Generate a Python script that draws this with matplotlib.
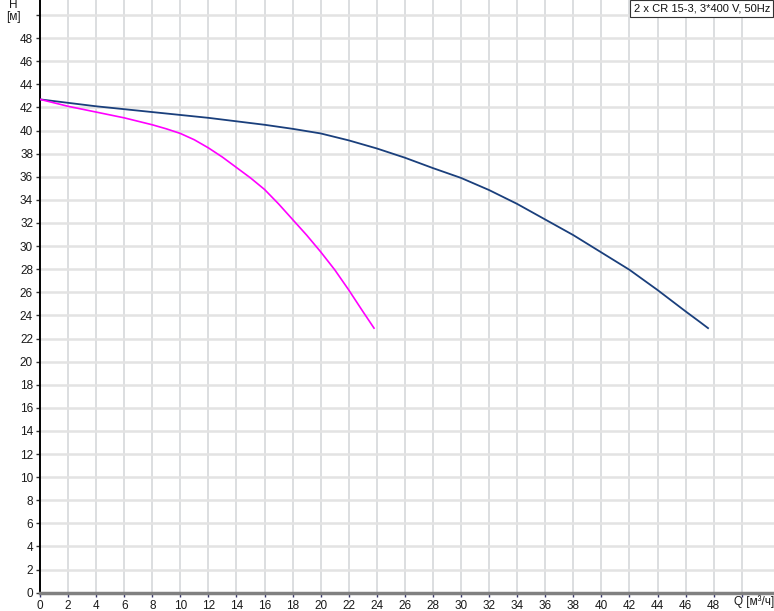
import matplotlib
matplotlib.use('Agg', force=True)
import matplotlib.pyplot as plt

plt.rcParams['font.family'] = ['Liberation Sans', 'DejaVu Sans']

# одиночный насос (пурпурная кривая)
q_single = [0, 1, 2, 3, 4, 5, 6, 7, 8, 9, 10, 11, 12, 13, 14, 15, 16, 17, 18,
            19, 20, 21, 22, 23, 23.8]
h_single = [42.7, 42.4, 42.1, 41.85, 41.6, 41.35, 41.1, 40.8, 40.5, 40.15, 39.75, 39.2,
            38.5, 37.7, 36.8, 35.9, 34.9, 33.65, 32.3, 30.95, 29.5, 27.95, 26.2,
            24.35, 22.9]

# 2 насоса параллельно (синяя кривая)
q_double = [0, 2, 4, 6, 8, 10, 12, 14, 16, 18, 20, 22, 24, 26, 28, 30, 32, 34, 36,
            38, 40, 42, 44, 46, 47, 47.6]
h_double = [42.7, 42.4, 42.1, 41.85, 41.6, 41.35, 41.1, 40.8, 40.5, 40.15, 39.75,
            39.15, 38.45, 37.65, 36.75, 35.9, 34.85, 33.65, 32.3, 30.95, 29.45, 27.95,
            26.2, 24.35, 23.45, 22.9]

x_ticks = list(range(0, 52, 2))
y_ticks = list(range(0, 52, 2))
x_labels = [str(v) for v in x_ticks[:-1]] + ['']
y_labels = [str(v) for v in y_ticks[:-1]] + ['']
title = '2 x CR 15-3, 3*400 V, 50Hz'

W, H = 774, 611
fig = plt.figure(figsize=(W / 100, H / 100), dpi=100)
ax = fig.add_axes([40 / W, (H - 592.7) / H, (W - 40) / W, 592.7 / H])

ax.set_xlim(0, 52.3)
ax.set_ylim(0, 51.3)
ax.set_xticks(x_ticks)
ax.set_xticklabels(x_labels)
ax.set_yticks(y_ticks)
ax.set_yticklabels(y_labels)

ax.grid(axis='y', color='#e3e3e3', lw=1.8, zorder=0)
ax.grid(axis='x', color='#d6d8da', lw=1.2, zorder=0)
ax.set_axisbelow(True)

for s in ['top', 'right']:
    ax.spines[s].set_visible(False)
ax.spines['left'].set_color('black')
ax.spines['left'].set_linewidth(1.4)
ax.spines['bottom'].set_color('#808080')
ax.spines['bottom'].set_linewidth(2.5)

ax.tick_params(axis='y', length=3, width=1, color='#333333', pad=2,
               labelsize=8.5, labelcolor='#1a1a1a')
ax.tick_params(axis='x', length=3, width=1, color='#333366', pad=2,
               labelsize=8.5, labelcolor='#1a1a1a')

ax.plot(q_double, h_double, color='#1a3f7c', lw=1.3, zorder=3)
ax.plot(q_single, h_single, color='#ff00ff', lw=1.2, zorder=3)

fig.text(734 / W, 1 - 602 / H, 'Q [м³/ч]', ha='left', va='center', fontsize=8.5,
         color='#1a1a1a')
fig.text(13 / W, 1 - 5 / H, 'H', ha='center', va='center', fontsize=8.5, color='#1a1a1a')
fig.text(13 / W, 1 - 17 / H, '[м]', ha='center', va='center', fontsize=8.5, color='#1a1a1a')

fig.text(1 - 4 / W, 1 - 8.5 / H, title, ha='right', va='center', fontsize=8,
         color='#111111',
         bbox=dict(facecolor='white', edgecolor='#333333', lw=0.8, boxstyle='square,pad=0.3'))

fig.savefig('out.png', dpi=100)
plt.close(fig)
